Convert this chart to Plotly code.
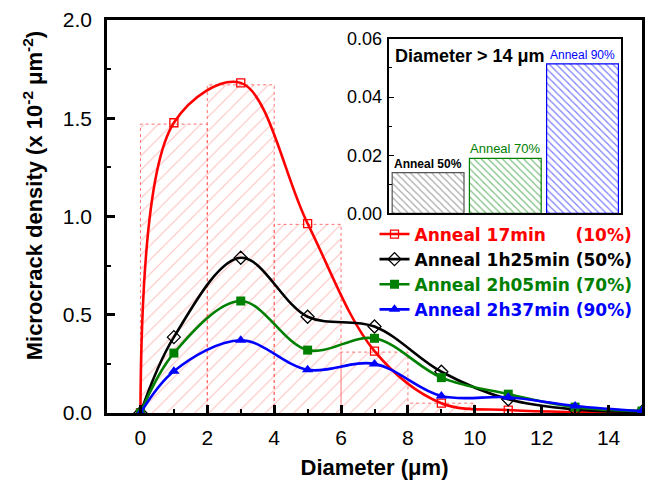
import plotly.graph_objects as go

# ---------------- data ----------------
diam = [0, 1, 3, 5, 7, 9, 11, 13, 15]
d10 = [0, 1.477, 1.68, 0.964, 0.315, 0.05, 0.015, 0.005, 0.0]
d50 = [0, 0.386, 0.79, 0.49, 0.44, 0.21, 0.07, 0.018, 0.006]
d70 = [0, 0.305, 0.57, 0.32, 0.38, 0.18, 0.096, 0.03, 0.01]
d90 = [0, 0.213, 0.37, 0.22, 0.25, 0.086, 0.08, 0.036, 0.01]

bin_left = [0, 2, 4, 6, 8]
bin_width = 2
bin_height = [1.47, 1.67, 0.96, 0.31, 0.05]

inset_cats = [1, 2, 3]
inset_vals = [0.014, 0.0189, 0.0514]
inset_labels = ["Anneal 50%", "Anneal 70%", "Anneal 90%"]

series_names = [
    "Anneal 17min\u00a0\u00a0\u00a0\u00a0\u00a0(10%)",
    "Anneal 1h25min (50%)",
    "Anneal 2h05min (70%)",
    "Anneal 2h37min (90%)",
]

RED = "#ff0000"
BLACK = "#000000"
GREEN = "#008000"
BLUE = "#0000ff"
FONT = "Liberation Sans, Arial, sans-serif"
LFONT = "DejaVu Sans, sans-serif"

fig = go.Figure()

# histogram bars (hatched)
fig.add_trace(go.Bar(
    x=[l + bin_width / 2 for l in bin_left], y=bin_height, width=bin_width,
    marker=dict(color="rgba(0,0,0,0)",
                pattern=dict(shape="/", fgcolor="rgba(255,80,80,0.75)", bgcolor="rgba(0,0,0,0)",
                             size=10, solidity=0.1, fillmode="overlay"),
                line=dict(width=0)),
    showlegend=False, hoverinfo="skip"))

# dotted outlines of the bars
ox, oy = [], []
for l, h in zip(bin_left, bin_height):
    ox += [l, l, l + bin_width, l + bin_width, None]
    oy += [0, h, h, 0, None]
fig.add_trace(go.Scatter(x=ox, y=oy, mode="lines",
                         line=dict(color="rgba(255,90,90,0.85)", width=1, dash="dot"),
                         showlegend=False, hoverinfo="skip"))

# curves
specs = [
    (d10, RED, dict(symbol="square-open", size=8, color=RED, line=dict(width=1.3, color=RED))),
    (d50, BLACK, dict(symbol="diamond-open", size=10, color=BLACK, line=dict(width=1.3, color=BLACK))),
    (d70, GREEN, dict(symbol="square", size=9, color=GREEN)),
    (d90, BLUE, dict(symbol="triangle-up", size=10, color=BLUE)),
]
for (vals, col, mk), name in zip(specs, series_names):
    fig.add_trace(go.Scatter(
        x=diam, y=vals, mode="lines+markers",
        name=f'<span style="color:{col}"><b>{name}</b></span>',
        line=dict(color=col, width=2.6, shape="spline", smoothing=1.0),
        marker=mk))

# inset bars
inset_colors = ["#555555", GREEN, BLUE]
fig.add_trace(go.Bar(
    x=inset_cats, y=inset_vals, width=0.93, xaxis="x2", yaxis="y2",
    marker=dict(color="rgba(0,0,0,0)",
                pattern=dict(shape="\\", fgcolor=inset_colors, bgcolor="rgba(0,0,0,0)",
                             size=5, solidity=0.25, fillmode="overlay"),
                line=dict(width=1.2, color=inset_colors)),
    showlegend=False, hoverinfo="skip"))

annotations = [
    # y-axis title
    dict(x=-0.139, y=0.553, xref="paper", yref="paper", xanchor="center", yanchor="middle",
         textangle=-90, showarrow=False,
         text="<b>Microcrack density (x 10<sup>-2</sup> μm<sup>-2</sup>)</b>",
         font=dict(family=FONT, size=22, color=BLACK)),
    dict(x=0.54, y=0.06, xref="x2", yref="y2", xanchor="left", yanchor="top",
         text="<b>Diameter > 14 μm</b>", showarrow=False,
         font=dict(family=FONT, size=18, color=BLACK), yshift=-5),
    dict(x=inset_cats[0], y=inset_vals[0], xref="x2", yref="y2", yanchor="bottom",
         text="<b>" + inset_labels[0] + "</b>", showarrow=False,
         font=dict(family=FONT, size=12, color=BLACK)),
    dict(x=inset_cats[1], y=inset_vals[1], xref="x2", yref="y2", yanchor="bottom",
         text=inset_labels[1], showarrow=False,
         font=dict(family=FONT, size=13, color=GREEN)),
    dict(x=inset_cats[2], y=inset_vals[2], xref="x2", yref="y2", yanchor="bottom",
         text=inset_labels[2], showarrow=False,
         font=dict(family=FONT, size=12, color=BLUE)),
]

axis_common = dict(showline=True, linecolor="black", mirror=True, showgrid=False, zeroline=False)

fig.update_layout(
    width=653, height=491,
    margin=dict(l=107, r=8, t=19, b=78),
    paper_bgcolor="white", plot_bgcolor="white",
    barmode="overlay",
    font=dict(family=FONT, color="black"),
    xaxis=dict(**axis_common, linewidth=2.5, range=[-1, 15], tick0=0, dtick=2,
               ticks="inside", ticklen=8, tickwidth=2.5, tickcolor="black",
               minor=dict(ticks="inside", ticklen=4, tickwidth=2, dtick=1, tick0=0, tickcolor="black"),
               tickfont=dict(size=21, family=FONT), ticklabelstandoff=4,
               title=dict(text="<b>Diameter (μm)</b>", font=dict(size=22, family=FONT), standoff=12)),
    yaxis=dict(**axis_common, linewidth=2.5, range=[0, 2.0], dtick=0.5, tickformat=".1f",
               ticks="inside", ticklen=8, tickwidth=2.5, tickcolor="black",
               minor=dict(ticks="inside", ticklen=4, tickwidth=2, dtick=0.25, tickcolor="black"),
               tickfont=dict(size=21, family=FONT), ticklabelstandoff=8),
    xaxis2=dict(**axis_common, linewidth=1.5, domain=[0.528, 0.961], anchor="y2",
                range=[0.5, 3.5], showticklabels=False, ticks=""),
    yaxis2=dict(**axis_common, linewidth=1.5, domain=[0.508, 0.952], anchor="x2",
                range=[0, 0.06], dtick=0.02, tickformat=".2f",
                ticks="inside", ticklen=5, tickwidth=1.2, tickcolor="black",
                minor=dict(ticks="inside", ticklen=3, tickwidth=1, dtick=0.01, tickcolor="black"),
                tickfont=dict(size=18, family=FONT), ticklabelstandoff=2),
    legend=dict(x=0.50, y=0.50, xanchor="left", yanchor="top",
                bgcolor="rgba(0,0,0,0)", borderwidth=0,
                font=dict(family=LFONT, size=17), itemwidth=30, tracegroupgap=0),
    annotations=annotations,
)

fig.write_html("out.html")
